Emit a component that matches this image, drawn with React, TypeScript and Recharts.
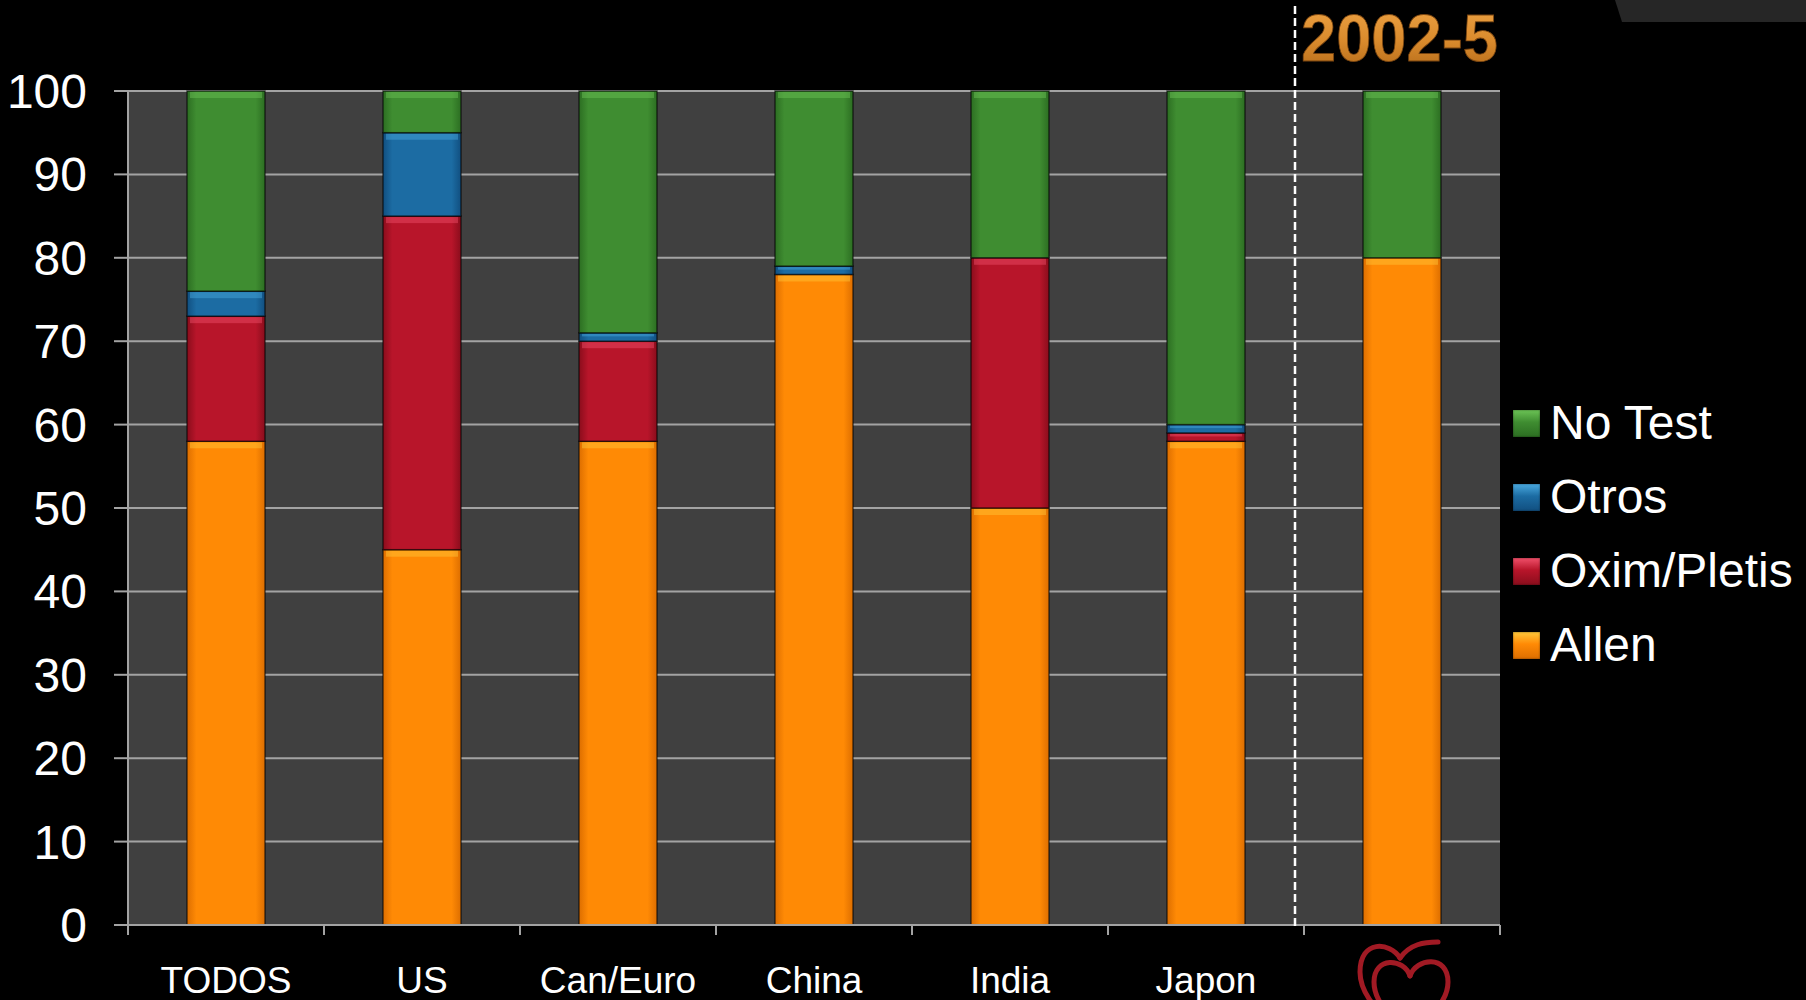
import React from 'react';
import { BarChart, Bar, XAxis, YAxis, CartesianGrid, Legend } from 'recharts';

const categories = ['TODOS', 'US', 'Can/Euro', 'China', 'India', 'Japon', ''];
const allen = [58, 45, 58, 78, 50, 58, 80];
const oxim = [15, 40, 12, 0, 30, 1, 0];
const otros = [3, 10, 1, 1, 0, 1, 0];
const noTest = [24, 5, 29, 21, 20, 40, 20];
const yTicks = [0, 10, 20, 30, 40, 50, 60, 70, 80, 90, 100];
const periodLabel = '2002-5';

const data = categories.map((name, i) => ({
  name,
  allen: allen[i],
  oxim: oxim[i],
  otros: otros[i],
  noTest: noTest[i],
}));

const series = [
  { key: 'allen', name: 'Allen', base: '#FF8A05', edge: '#DD6E00', light: '#FFC83A' },
  { key: 'oxim', name: 'Oxim/Pletis', base: '#B8152A', edge: '#8A0D1C', light: '#F0506A' },
  { key: 'otros', name: 'Otros', base: '#1C6CA3', edge: '#114F80', light: '#4AAAE0' },
  { key: 'noTest', name: 'No Test', base: '#3F8D31', edge: '#2C6E22', light: '#6CC456' },
];

const FONT = '"Liberation Sans", Arial, Helvetica, sans-serif';
const GRID = '#A3A3A3';

const Segment = (props: any) => {
  const { x, y, width, height, s } = props;
  if (!height || height < 0.5) return null;
  const hl = Math.min(6, height * 0.3);
  return (
    <g>
      <rect x={x} y={y} width={width} height={height} fill={`url(#grad-${s.key})`} stroke="rgba(0,0,0,0.6)" strokeWidth={1.5} />
      {height > 4 && (
        <rect x={x + 3} y={y + 1} width={width - 6} height={hl} fill={s.light} opacity={0.45} />
      )}
    </g>
  );
};

const XTick = (props: any) => {
  const { x, y, payload, index, width, visibleTicksCount } = props;
  const half = payload && payload.offset ? payload.offset : width / (visibleTicksCount || 7) / 2;
  const axisY = y - 10;
  const label = payload.value;
  const t = axisY + 15;
  const cx = x + 2;
  return (
    <g>
      <line x1={x - half} x2={x - half} y1={axisY} y2={axisY + 10} stroke={GRID} strokeWidth={2} />
      {index === categories.length - 1 && (
        <line x1={x + half} x2={x + half} y1={axisY} y2={axisY + 10} stroke={GRID} strokeWidth={2} />
      )}
      {label ? (
        <text x={x} y={axisY + 68} textAnchor="middle" fill="#FFFFFF" fontSize={37} fontFamily={FONT}>
          {label}
        </text>
      ) : (
        <g fill="none" stroke="#A11A24" strokeWidth={5} strokeLinecap="round">
          <path d={`M ${cx - 4} ${t + 18} C ${cx - 14} ${t + 2} ${cx - 44} ${t - 1} ${cx - 44} ${t + 32} C ${cx - 44} ${t + 60} ${cx - 14} ${t + 80} ${cx} ${t + 100}`} />
          <path d={`M ${cx - 4} ${t + 18} C ${cx + 6} ${t + 4} ${cx + 20} ${t + 2} ${cx + 34} ${t + 2}`} />
          <path d={`M ${cx + 6} ${t + 36} C ${cx} ${t + 18} ${cx - 30} ${t + 16} ${cx - 30} ${t + 42} C ${cx - 30} ${t + 66} ${cx - 6} ${t + 80} ${cx + 6} ${t + 100}`} />
          <path d={`M ${cx + 6} ${t + 36} C ${cx + 12} ${t + 18} ${cx + 44} ${t + 14} ${cx + 44} ${t + 42} C ${cx + 44} ${t + 66} ${cx + 18} ${t + 80} ${cx + 6} ${t + 100}`} />
        </g>
      )}
    </g>
  );
};

const LegendContent = () => (
  <div style={{ fontFamily: FONT }}>
    {[...series].reverse().map((s) => (
      <div key={s.key} style={{ display: 'flex', alignItems: 'center', height: 74 }}>
        <div
          style={{
            width: 27,
            height: 27,
            flex: 'none',
            background: `linear-gradient(to bottom, ${s.light} 0%, ${s.base} 45%, ${s.edge} 100%)`,
            boxShadow: 'inset 0 0 2px rgba(0,0,0,0.6)',
          }}
        />
        <span style={{ color: '#FFFFFF', fontSize: 48, marginLeft: 10, lineHeight: '48px', whiteSpace: 'nowrap' }}>{s.name}</span>
      </div>
    ))}
  </div>
);

export default function App() {
  return (
    <div style={{ position: 'absolute', left: 0, top: 0, width: 1806, height: 1000, background: '#000000', overflow: 'hidden' }}>
      <BarChart
        width={1806}
        height={1000}
        data={data}
        margin={{ top: 91, right: 306, bottom: 0, left: 0 }}
        barSize={78}
      >
        <defs>
          {series.map((s) => (
            <linearGradient key={s.key} id={`grad-${s.key}`} x1="0" y1="0" x2="1" y2="0">
              <stop offset="0%" stopColor={s.edge} />
              <stop offset="12%" stopColor={s.base} />
              <stop offset="88%" stopColor={s.base} />
              <stop offset="100%" stopColor={s.edge} />
            </linearGradient>
          ))}
        </defs>
        <CartesianGrid vertical={false} stroke={GRID} strokeWidth={2} fill="#404040" fillOpacity={1} />
        <XAxis
          dataKey="name"
          height={75}
          tickLine={false}
          tickSize={10}
          tickMargin={0}
          axisLine={{ stroke: GRID, strokeWidth: 2 }}
          tick={<XTick />}
          interval={0}
        />
        <YAxis
          width={128}
          domain={[0, 100]}
          ticks={yTicks}
          interval={0}
          tickSize={14}
          tickMargin={27}
          axisLine={{ stroke: GRID, strokeWidth: 2 }}
          tickLine={{ stroke: GRID, strokeWidth: 2 }}
          tick={{ fill: '#FFFFFF', fontSize: 48, fontFamily: FONT }}
        />
        {series.map((s) => (
          <Bar
            key={s.key}
            dataKey={s.key}
            name={s.name}
            stackId="a"
            fill={s.base}
            isAnimationActive={false}
            shape={(p: any) => <Segment {...p} s={s} />}
          />
        ))}
        <Legend
          layout="vertical"
          align="center"
          verticalAlign="middle"
          content={<LegendContent />}
          wrapperStyle={{ position: 'absolute', left: 1513, top: 386, width: 293, height: 300 }}
        />
      </BarChart>
      <svg width={1806} height={1000} style={{ position: 'absolute', left: 0, top: 0, pointerEvents: 'none' }}>
        <defs>
          <linearGradient id="gold" x1="0" y1="0" x2="0" y2="1">
            <stop offset="0%" stopColor="#EFA547" />
            <stop offset="55%" stopColor="#D98A2C" />
            <stop offset="100%" stopColor="#B06818" />
          </linearGradient>
        </defs>
        <polygon points="1615,0 1806,0 1806,22 1622,22" fill="#262626" />
        <line x1={1295} x2={1295} y1={6} y2={928} stroke="#FFFFFF" strokeWidth={2.5} strokeDasharray="8 4" />
        <text
          x={1301}
          y={61}
          fontFamily={FONT}
          fontWeight="bold"
          fontSize={67}
          fill="url(#gold)"
          stroke="#7A4510"
          strokeWidth={0.8}
          textLength={197}
          lengthAdjust="spacingAndGlyphs"
        >
          {periodLabel}
        </text>
      </svg>
    </div>
  );
}
